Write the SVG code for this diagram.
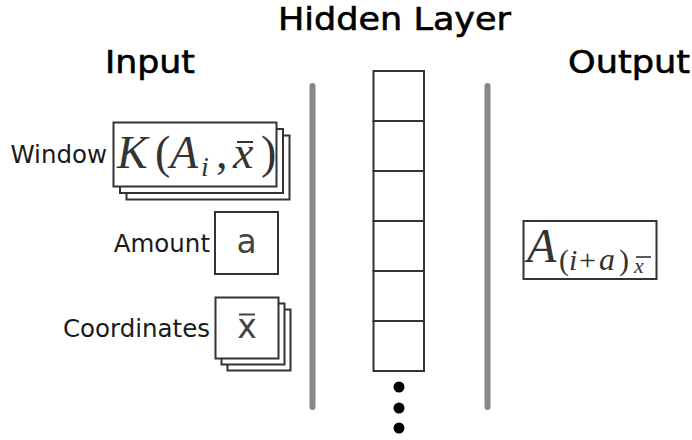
<svg xmlns="http://www.w3.org/2000/svg" width="692" height="440" viewBox="0 0 692 440">
<style>
.title{font-family:"DejaVu Sans",sans-serif;font-size:32px;fill:#000;stroke:#000;stroke-width:0.6}
.lbl{font-family:"DejaVu Sans",sans-serif;font-size:24.5px;fill:#1a1a1a;text-anchor:end}
.box{fill:#fff;stroke:#333;stroke-width:2}
.math{font-family:"Liberation Serif",serif;fill:#333}
.it{font-style:italic}
.sym{font-family:"DejaVu Sans",sans-serif;font-size:33px;fill:#444;text-anchor:middle}
.sep{stroke:#888;stroke-width:6;stroke-linecap:round}
</style>
<rect width="692" height="440" fill="#fff"/>
<g id="titles">
<text class="title" x="278" y="29.5" textLength="233" lengthAdjust="spacingAndGlyphs">Hidden Layer</text>
<text class="title" x="105" y="72.7" textLength="90" lengthAdjust="spacingAndGlyphs">Input</text>
<text class="title" x="568" y="72.7" textLength="122" lengthAdjust="spacingAndGlyphs">Output</text>
</g>
<g id="separators">
<line class="sep" x1="312.5" y1="86" x2="312.5" y2="407"/>
<line class="sep" x1="487.5" y1="86" x2="487.5" y2="407"/>
</g>
<g id="window">
<text class="lbl" x="107" y="163">Window</text>
<rect class="box" x="126.5" y="135.5" width="163" height="64"/>
<rect class="box" x="120" y="129" width="163" height="64"/>
<rect class="box" x="113.5" y="122.5" width="163" height="64"/>
<g class="math" font-size="46">
<text class="it" x="117" y="167.5">K</text>
<text x="155" y="167.5">(</text>
<text class="it" x="170" y="167.5">A</text>
<text class="it" x="201" y="176" font-size="28">i</text>
<text x="216" y="167.5">,</text>
<text class="it" x="233" y="167.5">x</text>
<line x1="237" y1="142" x2="253" y2="142" stroke="#333" stroke-width="2"/>
<text x="261" y="167.5">)</text>
</g>
</g>
<g id="amount">
<text class="lbl" x="210" y="252">Amount</text>
<rect class="box" x="215" y="212" width="63" height="62"/>
<text class="sym" x="246.5" y="253">a</text>
</g>
<g id="coordinates">
<text class="lbl" x="210" y="336.5">Coordinates</text>
<rect class="box" x="227.5" y="309.5" width="63" height="61"/>
<rect class="box" x="221.5" y="303.5" width="63" height="61"/>
<rect class="box" x="215.5" y="297.5" width="63" height="61"/>
<text class="sym" x="247" y="338">x</text>
<line x1="239" y1="314.5" x2="255" y2="314.5" stroke="#444" stroke-width="2"/>
</g>
<g id="hidden">
<rect class="box" x="373.5" y="71" width="50.5" height="50"/>
<rect class="box" x="373.5" y="121" width="50.5" height="50"/>
<rect class="box" x="373.5" y="171" width="50.5" height="50"/>
<rect class="box" x="373.5" y="221" width="50.5" height="50"/>
<rect class="box" x="373.5" y="271" width="50.5" height="50"/>
<rect class="box" x="373.5" y="321" width="50.5" height="50"/>
<circle cx="399" cy="387" r="5.5" fill="#000"/>
<circle cx="399" cy="408" r="5.5" fill="#000"/>
<circle cx="399" cy="428" r="5.5" fill="#000"/>
</g>
<g id="output">
<rect class="box" x="523.5" y="221" width="133" height="58"/>
<g class="math">
<text class="it" x="527" y="262" font-size="48">A</text>
<text x="559" y="270" font-size="30">(</text>
<text class="it" x="569" y="270" font-size="30">i</text>
<text x="579" y="270" font-size="30">+</text>
<text class="it" x="599" y="270" font-size="32">a</text>
<text x="619" y="270" font-size="30">)</text>
<text class="it" x="634" y="273" font-size="22">x</text>
<line x1="636" y1="257" x2="651" y2="257" stroke="#333" stroke-width="1.6"/>
</g>
</g>
</svg>
